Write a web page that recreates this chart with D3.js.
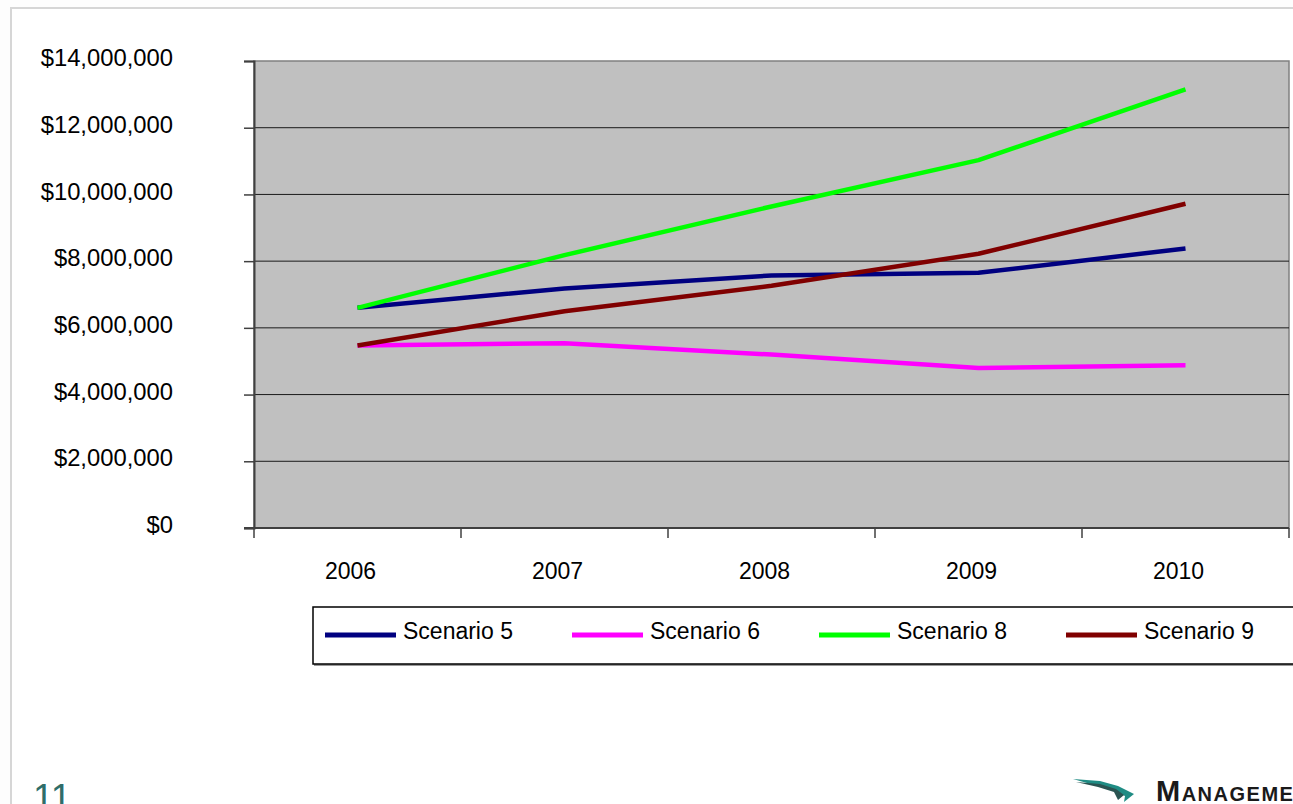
<!DOCTYPE html>
<html>
<head>
<meta charset="UTF-8">
<title>Scenarios</title>
<script src="https://d3js.org/d3.v7.min.js"></script>
<style>
    body {margin: 0; background: #fdfdfd; overflow: hidden;}
    text {font-family: "Liberation Sans", Arial, sans-serif; fill: black;}
    .grid line {stroke: #1a1a1a; stroke-width: 1;}
</style>
</head>
<body>
<div class="sh"></div>
<script>
    // chart values
    var years = ["2006", "2007", "2008", "2009", "2010"];
    var seriesNames = ["Scenario 5", "Scenario 6", "Scenario 8", "Scenario 9"];
    var scenario5 = [6600000, 7180000, 7570000, 7650000, 8380000];
    var scenario6 = [5470000, 5540000, 5200000, 4800000, 4880000];
    var scenario8 = [6600000, 8180000, 9640000, 11030000, 13150000];
    var scenario9 = [5470000, 6500000, 7260000, 8220000, 9720000];
    var yTicks = [0, 2000000, 4000000, 6000000, 8000000, 10000000, 12000000, 14000000];
    var colors = ["#000080", "#ff00ff", "#00ff00", "#800000"];

    var allSeries = [scenario5, scenario6, scenario8, scenario9];

    var W = 1293, H = 804;
    var plot = {left: 254, right: 1289, top: 61, bottom: 528};

    var svg = d3.select('.sh').append("svg")
        .attr("width", W)
        .attr("height", H);

    svg.append("rect").attr("width", W).attr("height", H).attr("fill", "#fdfdfd");

    // slide frame
    svg.append("rect")
        .attr("x", 11).attr("y", 8)
        .attr("width", W + 20).attr("height", H + 20)
        .attr("fill", "#ffffff")
        .attr("stroke", "#d6d6d6")
        .attr("stroke-width", 2);

    var x = d3.scaleBand()
        .domain(years)
        .range([plot.left, plot.right]);

    var y = d3.scaleLinear()
        .domain([0, 14000000])
        .range([plot.bottom, plot.top]);

    // plot area
    svg.append("rect")
        .attr("x", plot.left).attr("y", plot.top)
        .attr("width", plot.right - plot.left)
        .attr("height", plot.bottom - plot.top)
        .attr("fill", "#c0c0c0")
        .attr("stroke", "#808080")
        .attr("stroke-width", 1.5);

    // gridlines
    svg.append("g").attr("class", "grid")
        .selectAll("line")
        .data(yTicks.slice(1, -1))
        .enter().append("line")
        .attr("x1", plot.left).attr("x2", plot.right)
        .attr("y1", function(d) {return y(d)})
        .attr("y2", function(d) {return y(d)});

    // y axis
    var yAxis = svg.append("g")
        .attr("transform", "translate(" + plot.left + ",0)")
        .call(d3.axisLeft(y)
            .tickValues(yTicks)
            .tickSize(10)
            .tickPadding(71)
            .tickFormat(function(d) {return "$" + d3.format(",")(d)}));
    yAxis.select(".domain").attr("stroke", "#404040").attr("stroke-width", 2);
    yAxis.selectAll(".tick line").attr("stroke", "#404040").attr("stroke-width", 1.5);
    yAxis.selectAll(".tick text")
        .attr("font-size", "23.8px")
        .attr("font-family", "Liberation Sans, Arial, sans-serif")
        .attr("fill", "black")
        .attr("y", -3);

    // x axis: labels from the band scale, ticks on band edges
    var xAxis = svg.append("g")
        .attr("transform", "translate(0," + plot.bottom + ")")
        .call(d3.axisBottom(x).tickSize(0).tickPadding(35));
    xAxis.select(".domain").remove();
    xAxis.selectAll(".tick text")
        .attr("font-size", "23px")
        .attr("font-family", "Liberation Sans, Arial, sans-serif")
        .attr("fill", "black")
        .attr("x", -7);

    var edges = years.map(function(d) {return x(d)}).concat([plot.right]);
    svg.append("g").selectAll("line")
        .data(edges)
        .enter().append("line")
        .attr("x1", function(d) {return d}).attr("x2", function(d) {return d})
        .attr("y1", plot.bottom).attr("y2", plot.bottom + 10)
        .attr("stroke", "#404040").attr("stroke-width", 1.5);

    svg.append("line")
        .attr("x1", plot.left - 10).attr("x2", plot.right)
        .attr("y1", plot.bottom).attr("y2", plot.bottom)
        .attr("stroke", "#404040").attr("stroke-width", 2);

    // series lines
    var line = d3.line()
        .x(function(d, i) {return x(years[i]) + x.bandwidth() / 2})
        .y(function(d) {return y(d)});

    svg.append("g").selectAll("path")
        .data(allSeries)
        .enter().append("path")
        .attr("d", line)
        .attr("fill", "none")
        .attr("stroke", function(d, i) {return colors[i]})
        .attr("stroke-width", 4.5)
        .attr("stroke-linejoin", "round");

    // legend
    var lg = svg.append("g").attr("transform", "translate(313,607)");
    lg.append("rect")
        .attr("x", 1).attr("y", 1)
        .attr("width", 1000).attr("height", 58)
        .attr("fill", "#999");
    lg.append("rect")
        .attr("width", 1000).attr("height", 57)
        .attr("fill", "#ffffff")
        .attr("stroke", "#000")
        .attr("stroke-width", 1.5);

    var items = lg.selectAll(".item")
        .data(seriesNames)
        .enter().append("g")
        .attr("class", "item")
        .attr("transform", function(d, i) {return "translate(" + (12 + i * 247) + ",0)"});
    items.append("line")
        .attr("x1", 0).attr("x2", 71)
        .attr("y1", 28).attr("y2", 28)
        .attr("stroke", function(d, i) {return colors[i]})
        .attr("stroke-width", 5);
    items.append("text")
        .attr("x", 78).attr("y", 32)
        .attr("font-size", "23px")
        .text(function(d) {return d});

    // page number
    svg.append("text")
        .attr("x", 33).attr("y", 810)
        .attr("font-size", "37px")
        .style("fill", "#2f6d69")
        .text("11");

    // logo
    var logo = svg.append("g");
    logo.append("path")
        .attr("d", "M1073,779 L1100,781 L1118,786 L1134,794 L1124,802 L1125,796 L1112,790 L1094,785 Z")
        .attr("fill", "#1f8c84");
    logo.append("path")
        .attr("d", "M1076,782 L1100,784 L1116,789 L1124,795 L1118,800 L1114,792 L1098,787 Z")
        .attr("fill", "#2a5452");
    logo.append("text")
        .attr("x", 1156).attr("y", 801)
        .attr("font-family", "Liberation Serif, Times New Roman, serif")
        .attr("font-weight", "bold")
        .attr("font-size", "29px")
        .attr("letter-spacing", "1.5px")
        .style("font-variant", "small-caps")
        .style("fill", "#1a1a1a")
        .text("Management");
</script>
</body>
</html>
